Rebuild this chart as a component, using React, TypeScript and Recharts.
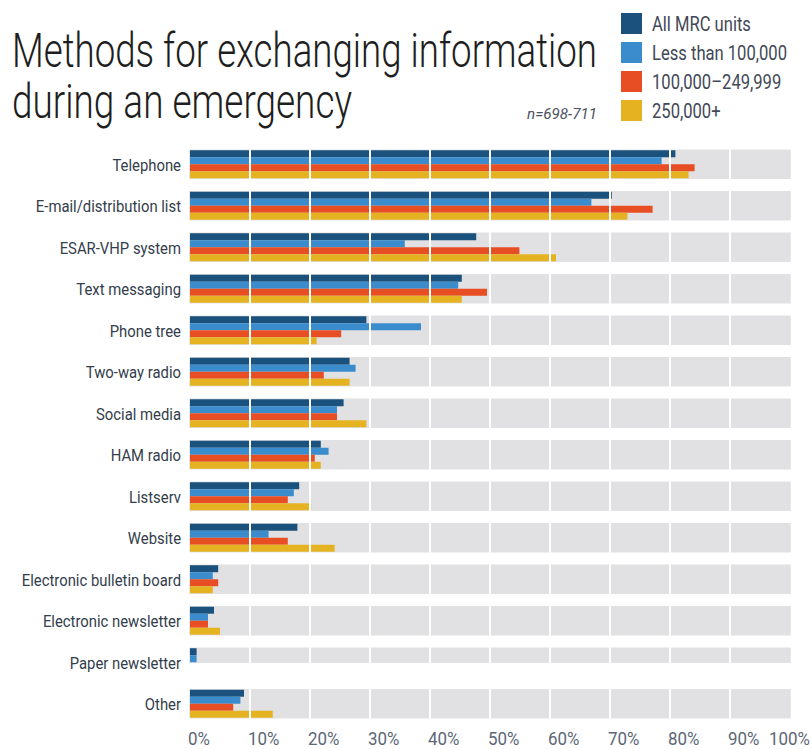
import { Bar, BarChart, ReferenceLine, XAxis, YAxis } from 'recharts'

const categories = [
  'Telephone',
  'E-mail/distribution list',
  'ESAR-VHP system',
  'Text messaging',
  'Phone tree',
  'Two-way radio',
  'Social media',
  'HAM radio',
  'Listserv',
  'Website',
  'Electronic bulletin board',
  'Electronic newsletter',
  'Paper newsletter',
  'Other',
]

// percent of respondents
const allUnits = [80.9, 70.3, 47.7, 45.3, 29.4, 26.6, 25.6, 21.8, 18.2, 17.9, 4.7, 4.0, 1.1, 9.0]
const lessThan100k = [78.6, 66.9, 35.8, 44.7, 38.5, 27.6, 24.5, 23.1, 17.3, 13.1, 3.8, 3.0, 1.1, 8.4]
const midSize = [84.1, 77.1, 54.9, 49.5, 25.2, 22.3, 24.5, 20.8, 16.3, 16.3, 4.7, 3.0, 0, 7.2]
const largeSize = [83.1, 72.9, 61.0, 45.3, 21.1, 26.6, 29.4, 21.8, 20.2, 24.1, 3.8, 5.0, 0, 13.8]

const seriesKeys = ['all', 'small', 'mid', 'large']
const seriesNames = ['All MRC units', 'Less than 100,000', '100,000–249,999', '250,000+']
const seriesColors = ['#1b527d', '#3a8ccd', '#e84e24', '#e5b321']

const xTicks = [0, 10, 20, 30, 40, 50, 60, 70, 80, 90, 100]
const gridLines = [10, 20, 30, 40, 50, 60, 70, 80, 90]

const data = categories.map((name, i) => ({
  name,
  all: allUnits[i],
  small: lessThan100k[i],
  mid: midSize[i],
  large: largeSize[i],
}))

const FONT = 'Roboto, sans-serif'
const BAND = '#e1e1e3'
const TITLE_SX = 0.7

const CategoryTick = ({ x, y, payload }: any) => (
  <g transform={`translate(${x},${y}) scale(0.9,1)`}>
    <text textAnchor="end" dy="0.35em" fill="#333d4b" fontSize={16.5} fontFamily={FONT}>
      {payload.value}
    </text>
  </g>
)

const PercentTick = ({ x, y, payload }: any) => {
  const last = payload.value === 100
  return (
    <g transform={`translate(${last ? x + 20 : x - 2},${y}) scale(0.94,1)`}>
      <text textAnchor={last ? 'end' : 'start'} dy={20} fill="#5d6776" fontSize={18} fontFamily={FONT}>
        {`${payload.value}%`}
      </text>
    </g>
  )
}

export default function App() {
  return (
    <div style={{ position: 'absolute', left: 0, top: 0, width: 812, height: 749, background: '#fff' }}>
      <BarChart
        width={812}
        height={749}
        data={data}
        layout="vertical"
        margin={{ top: 144, right: 22, bottom: 0, left: 0 }}
        barCategoryGap="15%"
        barGap={0}
        style={{ position: 'absolute', left: 0, top: 0 }}
      >
        <XAxis
          type="number"
          domain={[0, 100]}
          ticks={xTicks}
          axisLine={false}
          tickLine={false}
          tickSize={0}
          tickMargin={0}
          height={24}
          tick={<PercentTick />}
          interval={0}
        />
        <YAxis
          type="category"
          dataKey="name"
          width={190}
          axisLine={false}
          tickLine={false}
          tickSize={0}
          tickMargin={9}
          tick={<CategoryTick />}
          interval={0}
        />
        {seriesKeys.map((key, i) => (
          <Bar
            key={key}
            dataKey={key}
            name={seriesNames[i]}
            fill={seriesColors[i]}
            background={{ fill: BAND, stroke: BAND, strokeWidth: 1.5 }}
            isAnimationActive={false}
          />
        ))}
        {gridLines.map((v) => (
          <ReferenceLine key={v} x={v} stroke="#ffffff" strokeWidth={2} />
        ))}
      </BarChart>
      {/* title, sample size and legend */}
      <svg width={812} height={140} style={{ position: 'absolute', left: 0, top: 0 }}>
        <g transform={`translate(12,0) scale(${TITLE_SX},1)`}>
          <text fontSize={49} fontWeight={300} fontFamily={FONT} fill="#1e1e1e" lengthAdjust="spacingAndGlyphs">
            <tspan x={0} y={67} textLength={585 / TITLE_SX} lengthAdjust="spacingAndGlyphs">
              Methods for exchanging information
            </tspan>
            <tspan x={0} y={118} textLength={340 / TITLE_SX} lengthAdjust="spacingAndGlyphs">
              during an emergency
            </tspan>
          </text>
        </g>
        <g transform="translate(527,119) scale(0.85,1)">
          <text fontSize={14} fontStyle="italic" fontFamily={FONT} fill="#4a5260" textLength={70 / 0.85} lengthAdjust="spacingAndGlyphs">
            n=698-711
          </text>
        </g>
        {seriesNames.map((name, i) => (
          <g key={name} transform={`translate(621,${13 + i * 29})`}>
            <rect x={0} y={0} width={21} height={21} fill={seriesColors[i]} />
            <g transform="translate(31,18) scale(0.83,1)">
              <text fill="#3f4856" fontSize={20} fontFamily={FONT}>
                {name}
              </text>
            </g>
          </g>
        ))}
      </svg>
    </div>
  )
}
